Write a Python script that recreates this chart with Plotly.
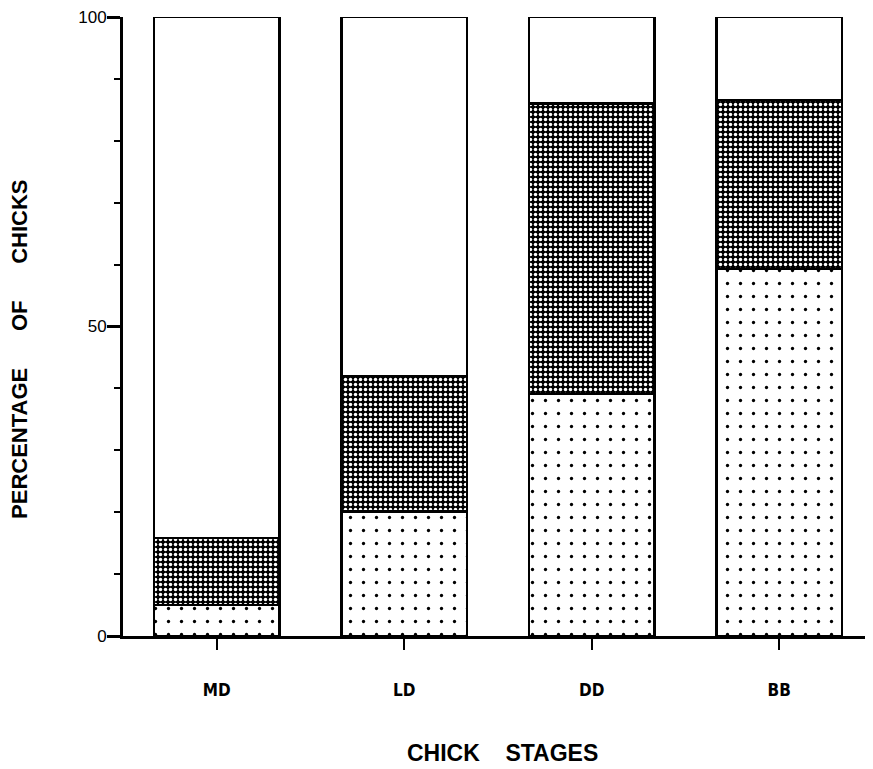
import plotly.graph_objects as go

stages = ["MD", "LD", "DD", "BB"]
dotted_vals = [5.0, 20.1, 39.1, 59.3]
hatched_vals = [10.8, 21.9, 46.9, 27.3]
white_vals = [84.2, 58.0, 14.0, 13.4]
y_ticks = [0, 50, 100]

fig = go.Figure()
line = dict(color="black", width=2.5)
fig.add_trace(go.Bar(
    x=stages, y=dotted_vals, width=0.667,
    marker=dict(color="white", line=line,
                pattern=dict(shape=".", fgcolor="black", bgcolor="white",
                             size=13, solidity=0.05, fillmode="replace")),
    showlegend=False))
fig.add_trace(go.Bar(
    x=stages, y=hatched_vals, width=0.667,
    marker=dict(color="black", line=line,
                pattern=dict(shape=".", fgcolor="white", bgcolor="black",
                             size=5, solidity=0.38, fillmode="replace")),
    showlegend=False))
fig.add_trace(go.Bar(
    x=stages, y=white_vals, width=0.667,
    marker=dict(color="white", line=line),
    showlegend=False))

fig.update_layout(
    barmode="stack",
    width=865, height=761,
    margin=dict(l=115, r=0, t=7, b=133),
    paper_bgcolor="white", plot_bgcolor="white",
    font=dict(family="Liberation Sans, Arial", color="black"),
    xaxis=dict(
        type="category", range=[-0.5, 3.5],
        showline=True, linecolor="black", linewidth=3,
        ticks="outside", ticklen=11, tickwidth=2, tickcolor="black",
        ticklabelstandoff=26, showgrid=False, zeroline=False,
        tickfont=dict(family="Liberation Sans Narrow, DejaVu Sans Condensed, Arial", size=17, weight="bold"),
    ),
    yaxis=dict(
        range=[0, 100], tickvals=y_ticks,
        showline=True, linecolor="black", linewidth=3,
        ticks="outside", ticklen=13, tickwidth=2.5, tickcolor="black",
        minor=dict(ticks="outside", dtick=10, ticklen=6, tickwidth=2, tickcolor="black"),
        showgrid=False, zeroline=False, ticklabeloverflow="allow",
        ticklabelstandoff=-3,
        tickfont=dict(size=17),
    ),
    annotations=[
        dict(text="CHICK    STAGES", xref="paper", yref="paper", x=(502 - 123) / 750, y=-(753 - 636) / 621,
             showarrow=False, font=dict(size=23, weight="bold", family="Liberation Sans, Arial"),
             xanchor="center", yanchor="middle"),
        dict(text="PERCENTAGE      OF      CHICKS", xref="paper", yref="paper", x=-(123 - 20) / 750, y=(636 - 349) / 621,
             showarrow=False, textangle=-90, font=dict(size=22, weight="bold", family="Liberation Sans, Arial"),
             xanchor="center", yanchor="middle"),
    ],
)

fig.write_html("out.html")
